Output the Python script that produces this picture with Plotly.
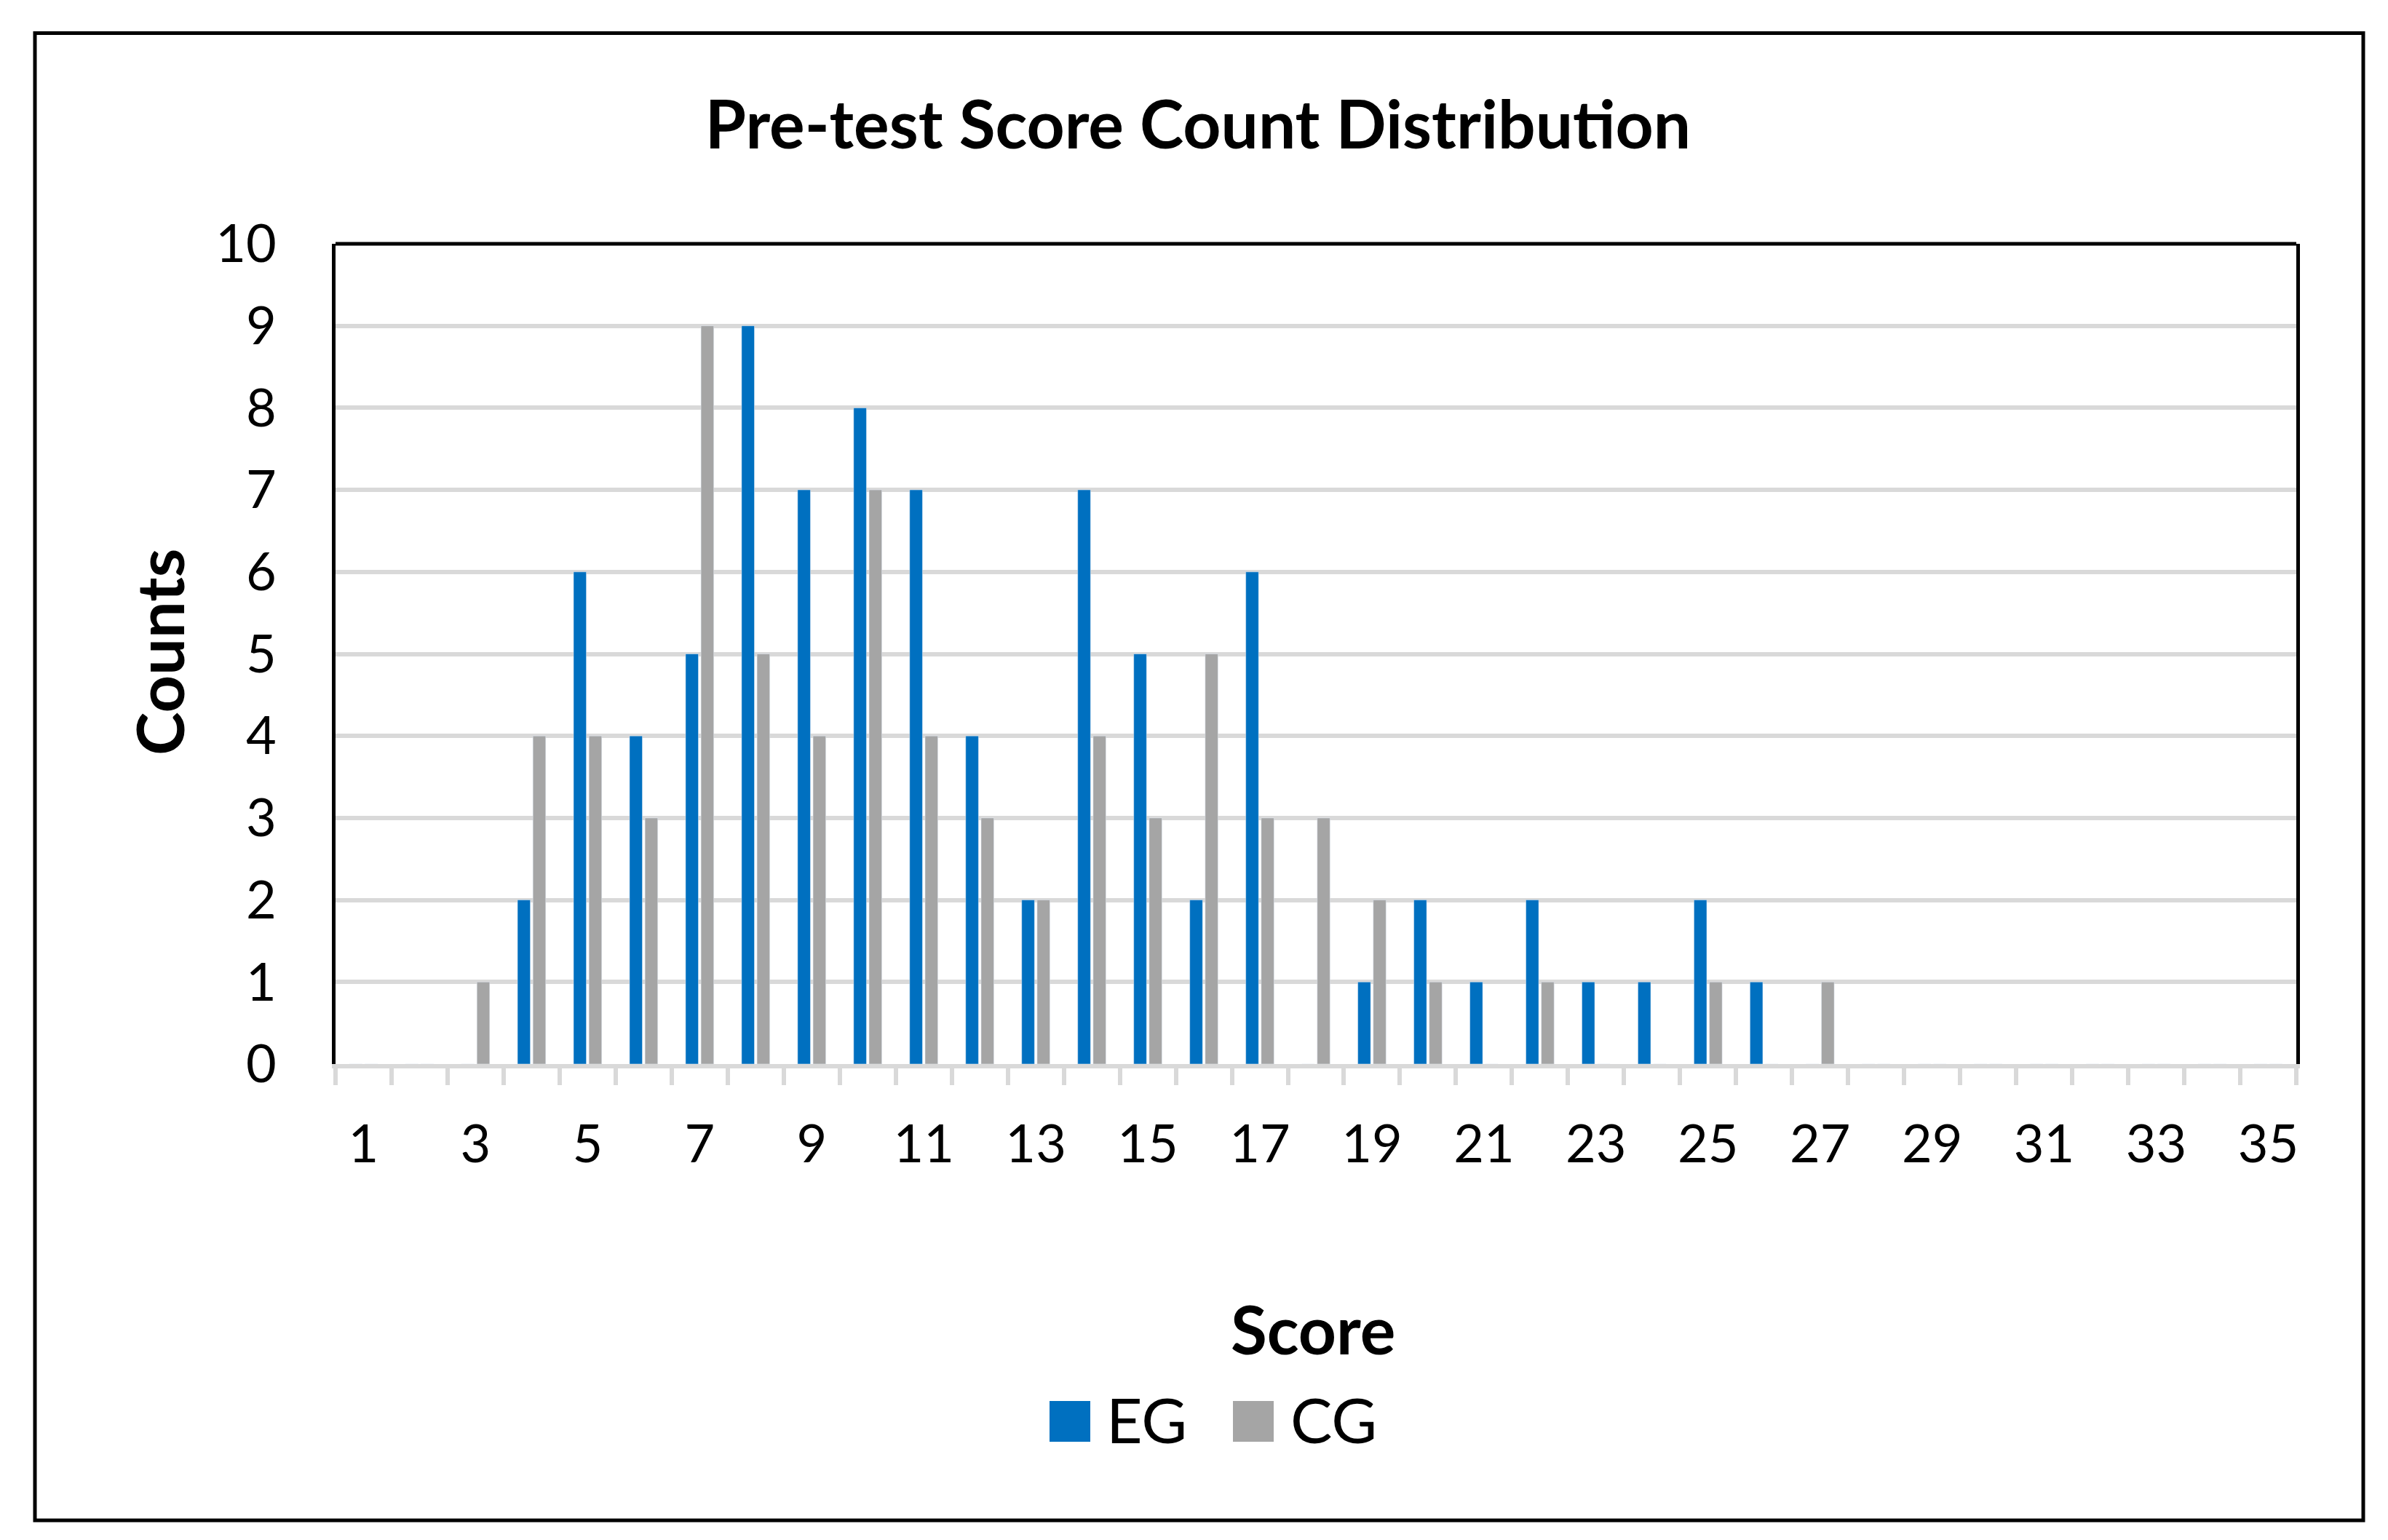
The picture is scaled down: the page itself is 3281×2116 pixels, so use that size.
import plotly.graph_objects as go

# ---- data ----
scores = list(range(1, 36))
eg_counts = [0, 0, 0, 2, 6, 4, 5, 9, 7, 8, 7, 4, 2, 7, 5, 2, 6, 0, 1, 2, 1, 2, 1, 1, 2, 1, 0,
             0, 0, 0, 0, 0, 0, 0, 0]
cg_counts = [0, 0, 1, 4, 4, 3, 9, 5, 4, 7, 4, 3, 2, 4, 3, 5, 3, 3, 2, 1, 0, 1, 0, 0, 1, 0, 1,
             0, 0, 0, 0, 0, 0, 0, 0]
x_tick_vals = list(range(1, 36, 2))
x_tick_text = [str(v) for v in x_tick_vals]
y_tick_vals = list(range(0, 11))

EG_COLOR = "#0070C0"
CG_COLOR = "#A5A5A5"
GRID = "#D9D9D9"
FONT = "Lato"

# page has an 8px body margin; figure is sized to fit the window
OFF = 8
W, H = 3281 - OFF, 2116 - OFF
# plot area in screen pixels
SL, SR, ST, SB = 461, 3155, 335, 1462
ml = SL - OFF
mt = ST - OFF
mr = W - (SR - OFF)
mb = H - (SB - OFF)
PW, PH = SR - SL, SB - ST


def px(xs):
    return (xs - SL) / PW


def py(ys):
    return (SB - ys) / PH


fig = go.Figure()
fig.add_trace(go.Bar(x=scores, y=eg_counts, name="EG", marker_color=EG_COLOR, showlegend=False))
fig.add_trace(go.Bar(x=scores, y=cg_counts, name="CG", marker_color=CG_COLOR, showlegend=False))

shapes = [
    # outer chart border
    dict(type="rect", xref="paper", yref="paper", x0=px(48), x1=px(3247), y0=py(2089), y1=py(45.5),
         line=dict(color="black", width=5), fillcolor="rgba(0,0,0,0)", layer="above"),
    # plot area top border
    dict(type="line", xref="paper", yref="paper", x0=0, x1=1, y0=1, y1=1,
         line=dict(color="black", width=5), layer="above"),
    # legend swatches
    dict(type="rect", xref="paper", yref="paper", x0=px(1442), x1=px(1498), y0=py(1981), y1=py(1925),
         line=dict(width=0), fillcolor=EG_COLOR),
    dict(type="rect", xref="paper", yref="paper", x0=px(1694), x1=px(1750), y0=py(1981), y1=py(1925),
         line=dict(width=0), fillcolor=CG_COLOR),
]

annotations = [
    dict(text="<b>Counts</b>", xref="paper", yref="paper", x=px(218), y=py(896), textangle=-90,
         showarrow=False, xanchor="center", yanchor="middle", font=dict(size=90, color="black", family=FONT)),
    dict(text="<b>Score</b>", xref="paper", yref="paper", x=px(1804), y=py(1825),
         showarrow=False, xanchor="center", yanchor="middle", font=dict(size=91, color="black", family=FONT)),
    dict(text="EG", xref="paper", yref="paper", x=px(1518), y=py(1949),
         showarrow=False, xanchor="left", yanchor="middle", font=dict(size=86, color="black", family=FONT)),
    dict(text="CG", xref="paper", yref="paper", x=px(1771), y=py(1949),
         showarrow=False, xanchor="left", yanchor="middle", font=dict(size=86, color="black", family=FONT)),
]

fig.update_layout(
    width=W, height=H,
    margin=dict(l=ml, r=mr, t=mt, b=mb, autoexpand=False),
    paper_bgcolor="white", plot_bgcolor="white",
    barmode="group", bargap=0.45, bargroupgap=0.17,
    font=dict(family=FONT, color="black"),
    title=dict(text="<b>Pre-test Score Count Distribution</b>", xref="container", yref="container",
               x=(1646 - OFF) / W, y=1 - (172 - OFF) / H, xanchor="center", yanchor="middle",
               font=dict(size=91, color="black", family=FONT)),
    shapes=shapes,
    annotations=annotations,
    showlegend=False,
)

fig.update_xaxes(
    range=[0.5, 35.5], tickmode="array", tickvals=x_tick_vals, ticktext=x_tick_text,
    ticks="outside", ticklen=43, tickcolor="rgba(0,0,0,0)",
    tickfont=dict(size=72, color="black", family=FONT),
    showgrid=False, zeroline=False,
    showline=True, linecolor=GRID, linewidth=6,
    minor=dict(tickmode="linear", tick0=0.5, dtick=1, ticks="outside", ticklen=23, tickwidth=6,
               tickcolor=GRID, showgrid=False),
)
fig.update_yaxes(
    range=[0, 10], tickmode="array", tickvals=y_tick_vals,
    ticks="outside", ticklen=62, tickcolor="rgba(0,0,0,0)",
    tickfont=dict(size=72, color="black", family=FONT),
    showgrid=True, gridcolor=GRID, gridwidth=6, zeroline=False,
    showline=True, linecolor="black", linewidth=4.5, mirror=True,
)

fig.write_html("out.html")
